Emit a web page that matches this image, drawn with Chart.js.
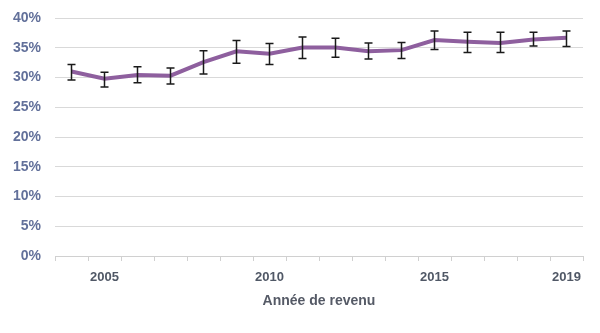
<!DOCTYPE html>
<html lang="fr">
<head>
<meta charset="utf-8">
<script src="https://cdn.jsdelivr.net/npm/chart.js@4/dist/chart.umd.min.js"></script>
<style>
  html, body { margin: 0; padding: 0; background: #fff; }
  #wrap { width: 600px; height: 333px; }
</style>
</head>
<body>
<div id="wrap"><canvas id="chart"></canvas></div>
<script>
// Données
const annees = ['2004','2005','2006','2007','2008','2009','2010','2011','2012','2013','2014','2015','2016','2017','2018','2019'];
const valeurs = [31.0, 29.8, 30.4, 30.3, 32.6, 34.4, 34.0, 35.05, 35.05, 34.4, 34.6, 36.3, 36.0, 35.8, 36.4, 36.7];
const bornesBasses = [29.6, 28.4, 29.1, 28.9, 30.6, 32.4, 32.2, 33.2, 33.4, 33.1, 33.2, 34.7, 34.2, 34.2, 35.3, 35.2];
const bornesHautes = [32.2, 30.9, 31.8, 31.6, 34.5, 36.2, 35.7, 36.8, 36.6, 35.8, 35.9, 37.8, 37.6, 37.6, 37.6, 37.8];
const anneesAffichees = ['2005', '2010', '2015', '2019'];

const police = "'Liberation Sans', Arial, sans-serif";

// Barres d'erreur dessinées avec les échelles du graphique
const barresErreur = {
    id: 'barresErreur',
    afterDatasetsDraw(chart) {
        const { ctx, scales: { x, y } } = chart;
        ctx.save();
        ctx.strokeStyle = '#1a1a1a';
        ctx.lineWidth = 1.5;
        annees.forEach((a, i) => {
            const px = x.getPixelForValue(i);
            const yHaut = y.getPixelForValue(bornesHautes[i]);
            const yBas = y.getPixelForValue(bornesBasses[i]);
            ctx.beginPath();
            ctx.moveTo(px, yHaut); ctx.lineTo(px, yBas);
            ctx.moveTo(px - 4, yHaut); ctx.lineTo(px + 4, yHaut);
            ctx.moveTo(px - 4, yBas); ctx.lineTo(px + 4, yBas);
            ctx.stroke();
        });
        ctx.restore();
    }
};

new Chart(document.getElementById('chart'), {
    type: 'line',
    data: {
        labels: annees,
        datasets: [{
            data: valeurs,
            borderColor: '#8e5f9e',
            borderWidth: 4,
            pointRadius: 0,
            tension: 0,
            fill: false
        }]
    },
    options: {
        responsive: true,
        maintainAspectRatio: false,
        animation: false,
        layout: { padding: { left: 0, right: 17, top: 18, bottom: 23 } },
        plugins: { legend: { display: false }, tooltip: { enabled: false } },
        scales: {
            x: {
                offset: true,
                afterFit: (scale) => { scale.height = 54; },
                grid: { offset: true, drawOnChartArea: false, drawTicks: true, tickLength: 5, color: '#d0d0d0' },
                border: { color: '#d0d0d0' },
                ticks: {
                    autoSkip: false,
                    maxRotation: 0,
                    padding: 9,
                    color: '#505866',
                    font: { family: police, size: 13, weight: 'bold' },
                    callback: function (v) {
                        const lab = this.getLabelForValue(v);
                        return anneesAffichees.includes(lab) ? lab : '';
                    }
                },
                title: {
                    display: true,
                    text: 'Année de revenu',
                    color: '#555a66',
                    font: { family: police, size: 14, weight: 'bold' },
                    padding: { top: 4, bottom: 0 }
                }
            },
            y: {
                min: 0,
                max: 40,
                afterFit: (scale) => {
                    scale.width = 55;
                    scale.paddingTop = 0;
                    scale.paddingBottom = 0;
                },
                grid: { color: '#d9d9d9', drawTicks: false },
                border: { display: false },
                ticks: {
                    stepSize: 5,
                    padding: 14,
                    color: '#62709a',
                    font: { family: police, size: 14, weight: 'bold' },
                    callback: (v) => v + '%'
                }
            }
        }
    },
    plugins: [barresErreur]
});
</script>
</body>
</html>
